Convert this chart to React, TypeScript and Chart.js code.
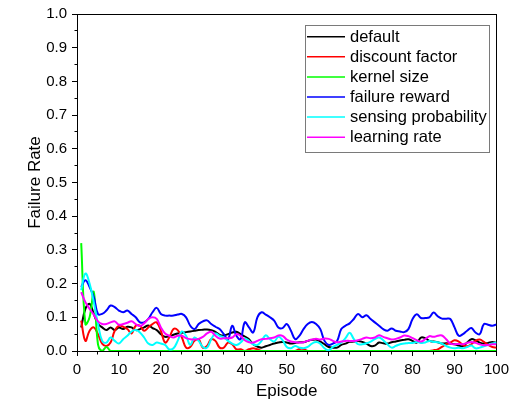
import { useEffect, useRef } from "react";
import { Chart, registerables } from "chart.js";

Chart.register(...registerables);

const FONT = "'Liberation Sans', Arial, sans-serif";

// Episode index (x values)
const episodes = Array.from({ length: 100 }, (_, i) => i + 1);

const seriesNames = [
  "default",
  "discount factor",
  "kernel size",
  "failure reward",
  "sensing probability",
  "learning rate",
];
const seriesColors = ["#000000", "#ff0000", "#00ff00", "#0000ff", "#00ffff", "#ff00ff"];

const defaultRate = [
  0.07, 0.125, 0.14, 0.11, 0.08, 0.07, 0.062, 0.07, 0.062, 0.07,
  0.065, 0.072, 0.07, 0.062, 0.065, 0.07, 0.076, 0.068, 0.062, 0.05,
  0.042, 0.044, 0.048, 0.052, 0.054, 0.056, 0.058, 0.06, 0.062, 0.063,
  0.064, 0.062, 0.057, 0.048, 0.046, 0.05, 0.055, 0.057, 0.05, 0.043,
  0.035, 0.02, 0.013, 0.01, 0.014, 0.018, 0.022, 0.025, 0.027, 0.025,
  0.022, 0.024, 0.026, 0.026, 0.03, 0.033, 0.034, 0.028, 0.02, 0.012,
  0.01, 0.01, 0.018, 0.022, 0.027, 0.028, 0.03, 0.027, 0.022, 0.015,
  0.016, 0.025, 0.023, 0.022, 0.026, 0.028, 0.031, 0.033, 0.035, 0.03,
  0.025, 0.04, 0.038, 0.03, 0.028, 0.026, 0.022, 0.023, 0.022, 0.02,
  0.016, 0.015, 0.025, 0.035, 0.032, 0.025, 0.022, 0.024, 0.027, 0.024,
];

const discountFactor = [
  0.09, 0.03, 0.06, 0.07, 0.05, 0.022, 0.015, 0.025, 0.06, 0.075,
  0.072, 0.065, 0.052, 0.075, 0.075, 0.06, 0.07, 0.08, 0.085, 0.06,
  0.025, 0.04, 0.065, 0.062, 0.04, 0.01, 0.012, 0.03, 0.035, 0.01,
  0.015, 0.035, 0.03, 0.01, 0.01, 0.025, 0.02, 0.005, 0.005, 0,
  0.005, 0.008, 0.005, 0, 0, 0, 0, 0, 0, 0,
  0, 0, 0.006, 0.006, 0, 0, 0, 0, 0, 0,
  0, 0, 0, 0, 0, 0, 0, 0, 0, 0,
  0, 0, 0, 0, 0, 0, 0, 0, 0, 0,
  0, 0, 0, 0, 0.002, 0.005, 0.012, 0.02, 0.025, 0.032,
  0.028, 0.018, 0.014, 0.02, 0.03, 0.034, 0.027, 0.018, 0.012, 0.01,
];

const kernelSize = [
  0.32, 0.08, 0.1, 0.175, 0.02, 0, 0.012, 0, 0, 0,
  0, 0, 0, 0, 0, 0, 0, 0, 0, 0,
  0, 0, 0, 0, 0, 0, 0, 0, 0, 0,
  0, 0, 0, 0, 0, 0, 0, 0, 0, 0,
  0, 0, 0, 0, 0, 0, 0, 0, 0, 0,
  0, 0, 0, 0, 0, 0, 0, 0, 0, 0,
  0, 0, 0, 0, 0, 0, 0, 0, 0, 0,
  0, 0, 0, 0, 0, 0, 0, 0, 0, 0,
  0, 0, 0, 0, 0, 0, 0, 0, 0, 0,
  0, 0, 0, 0, 0, 0, 0, 0, 0, 0,
];

const failureReward = [
  0.19, 0.21, 0.19, 0.16, 0.11, 0.11, 0.12, 0.135, 0.13, 0.12,
  0.115, 0.12, 0.11, 0.1, 0.085, 0.085, 0.095, 0.115, 0.128, 0.11,
  0.105, 0.105, 0.105, 0.108, 0.11, 0.1, 0.075, 0.065, 0.08, 0.088,
  0.091, 0.08, 0.072, 0.065, 0.05, 0.035, 0.075, 0.045, 0.035, 0.085,
  0.07, 0.055, 0.1, 0.115, 0.108, 0.1, 0.09, 0.07, 0.068, 0.08,
  0.06, 0.035, 0.045, 0.065, 0.08, 0.086, 0.08, 0.065, 0.03, 0.018,
  0.022, 0.03, 0.065, 0.075, 0.082, 0.095, 0.11, 0.1, 0.106, 0.095,
  0.085, 0.075, 0.065, 0.06, 0.067, 0.06, 0.058, 0.056, 0.065, 0.095,
  0.109, 0.098, 0.098, 0.1, 0.114, 0.103, 0.096, 0.096, 0.095, 0.07,
  0.045, 0.05, 0.06, 0.068, 0.055, 0.05, 0.08, 0.078, 0.075, 0.079,
];

const sensingProbability = [
  0.18, 0.23, 0.2, 0.145, 0.08, 0.03, 0.025, 0.04, 0.03, 0.022,
  0.035, 0.045, 0.058, 0.062, 0.055, 0.04, 0.022, 0.018, 0.025, 0.022,
  0.018, 0.005, 0.008, 0.03, 0.058, 0.045, 0.018, 0.04, 0.03, 0.012,
  0.01, 0.035, 0.052, 0.045, 0.04, 0.03, 0.022, 0.018, 0.025, 0.037,
  0.03, 0.02, 0.018, 0.03, 0.047, 0.035, 0.028, 0.042, 0.032, 0.012,
  0.008, 0.015, 0.01, 0.008, 0.012, 0.022, 0.027, 0.022, 0.008, 0.002,
  0.012, 0.018, 0.025, 0.038, 0.054, 0.035, 0.02, 0.02, 0.023, 0.028,
  0.035, 0.04, 0.032, 0.02, 0.01, 0.015, 0.02, 0.022, 0.024, 0.024,
  0.027, 0.024, 0.025, 0.03, 0.027, 0.026, 0.022, 0.015, 0.01, 0.008,
  0.01, 0.008, 0.012, 0.016, 0.008, 0.01, 0.014, 0.018, 0.022, 0.025,
];

const learningRate = [
  0.175, 0.145, 0.125, 0.108, 0.088, 0.08, 0.08, 0.085, 0.088, 0.078,
  0.08, 0.084, 0.088, 0.08, 0.074, 0.082, 0.095, 0.1, 0.095, 0.07,
  0.052, 0.045, 0.04, 0.045, 0.045, 0.038, 0.035, 0.034, 0.036, 0.042,
  0.052, 0.057, 0.045, 0.037, 0.038, 0.038, 0.04, 0.05, 0.045, 0.032,
  0.026, 0.025, 0.03, 0.035, 0.036, 0.038, 0.04, 0.046, 0.045, 0.034,
  0.028, 0.026, 0.025, 0.026, 0.03, 0.034, 0.036, 0.034, 0.037, 0.036,
  0.03, 0.026, 0.028, 0.03, 0.03, 0.03, 0.032, 0.036, 0.04, 0.038,
  0.04, 0.047, 0.042, 0.038, 0.034, 0.036, 0.04, 0.046, 0.044, 0.038,
  0.032, 0.028, 0.035, 0.044, 0.042, 0.045, 0.046, 0.035, 0.022, 0.02,
  0.021, 0.02, 0.024, 0.027, 0.024, 0.02, 0.017, 0.018, 0.02, 0.02,
];

const seriesValues = [
  defaultRate,
  discountFactor,
  kernelSize,
  failureReward,
  sensingProbability,
  learningRate,
];

// Closed axis frame plus short minor ticks between the labelled ones
const framePlugin = {
  id: "frame",
  beforeDatasetsDraw(chart: any) {
    const { ctx, chartArea: a, scales } = chart;
    const px = (v: number) => Math.floor(v) + 0.5;
    ctx.save();
    ctx.strokeStyle = "#000";
    ctx.lineWidth = 1;
    ctx.strokeRect(px(a.left), px(a.top), px(a.right) - px(a.left), px(a.bottom) - px(a.top));
    ctx.beginPath();
    for (let v = 5; v < 100; v += 10) {
      const x = px(scales.x.getPixelForValue(v));
      ctx.moveTo(x, px(a.bottom));
      ctx.lineTo(x, px(a.bottom) + 3);
    }
    for (let k = 0; k < 10; k++) {
      const y = px(scales.y.getPixelForValue(0.05 + k * 0.1));
      ctx.moveTo(px(a.left), y);
      ctx.lineTo(px(a.left) - 3, y);
    }
    ctx.stroke();
    ctx.restore();
  },
};

// Boxed legend inside the plot area
const legendPlugin = {
  id: "boxLegend",
  afterDraw(chart: any) {
    const { ctx } = chart;
    const box = { x: 305, y: 25, w: 184, h: 127 };
    ctx.save();
    ctx.fillStyle = "#ffffff";
    ctx.fillRect(box.x, box.y, box.w, box.h);
    ctx.strokeStyle = "#7a7a7a";
    ctx.lineWidth = 1;
    ctx.strokeRect(box.x + 0.5, box.y + 0.5, box.w, box.h);
    ctx.font = `16.5px ${FONT}`;
    ctx.textBaseline = "middle";
    ctx.textAlign = "left";
    chart.data.datasets.forEach((ds: any, i: number) => {
      const y = 36.7 + i * 20.1;
      ctx.strokeStyle = ds.borderColor;
      ctx.lineWidth = 1.5;
      ctx.beginPath();
      ctx.moveTo(307, y);
      ctx.lineTo(345, y);
      ctx.stroke();
      ctx.fillStyle = "#000";
      ctx.fillText(ds.label, 350, y + 0.5);
    });
    ctx.restore();
  },
};

export default function App() {
  const canvasRef = useRef<HTMLCanvasElement | null>(null);

  useEffect(() => {
    const canvas = canvasRef.current;
    if (!canvas) return;
    const tickFont = { family: FONT, size: 15 };
    const titleFont = { family: FONT, size: 17 };

    const chart = new Chart(canvas, {
      type: "line",
      data: {
        labels: episodes,
        datasets: seriesNames.map((name, i) => ({
          label: name,
          data: seriesValues[i],
          borderColor: seriesColors[i],
          backgroundColor: seriesColors[i],
          borderWidth: 2,
          pointRadius: 0,
          tension: 0.4,
          fill: false,
          order: seriesNames.length - 1 - i,
        })),
      },
      options: {
        animation: false,
        responsive: false,
        events: [],
        layout: { padding: { left: 0, top: 11, right: 13, bottom: 0 } },
        plugins: {
          legend: { display: false },
          tooltip: { enabled: false },
        },
        scales: {
          x: {
            type: "linear",
            min: 0,
            max: 100,
            border: { display: false },
            grid: {
              drawOnChartArea: false,
              drawTicks: true,
              tickLength: 5,
              tickColor: "#000",
              tickWidth: 1,
            },
            ticks: {
              stepSize: 10,
              autoSkip: false,
              maxRotation: 0,
              padding: 5,
              color: "#000",
              font: tickFont,
              callback: (v: any) => String(v),
            },
            title: {
              display: true,
              text: "Episode",
              color: "#000",
              font: titleFont,
              padding: { top: 0, bottom: 5 },
            },
            afterFit: (s: any) => {
              s.height = 56;
            },
          },
          y: {
            type: "linear",
            min: 0,
            max: 1,
            border: { display: false },
            grid: {
              drawOnChartArea: false,
              drawTicks: true,
              tickLength: 5,
              tickColor: "#000",
              tickWidth: 1,
            },
            ticks: {
              stepSize: 0.1,
              padding: 5,
              color: "#000",
              font: tickFont,
              callback: (v: any) => Number(v).toFixed(1),
            },
            title: {
              display: true,
              text: "Failure Rate",
              color: "#000",
              font: titleFont,
              padding: { top: 25, bottom: 0 },
            },
            afterFit: (s: any) => {
              s.width = 77;
            },
          },
        },
      },
      plugins: [framePlugin, legendPlugin],
    } as any);

    return () => chart.destroy();
  }, []);

  return (
    <div style={{ position: "absolute", left: 0, top: 0, width: 514, height: 407, background: "#fff" }}>
      <canvas ref={canvasRef} width={514} height={407} style={{ display: "block", width: 514, height: 407 }} />
    </div>
  );
}
